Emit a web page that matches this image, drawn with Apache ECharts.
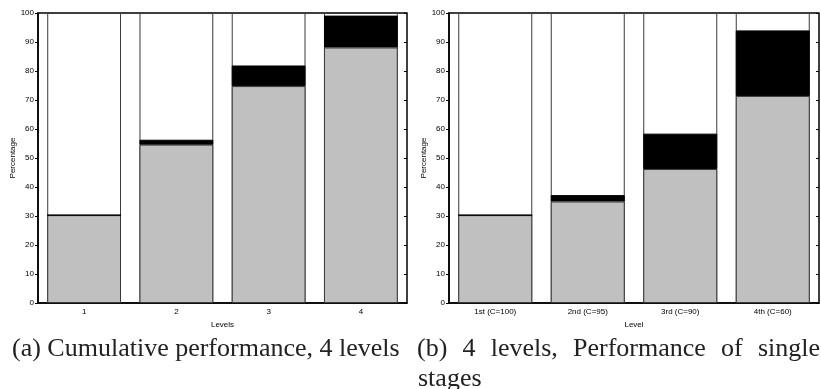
<!DOCTYPE html>
<html>
<head>
<meta charset="utf-8">
<script src="https://cdn.jsdelivr.net/npm/echarts@6/dist/echarts.min.js"></script>
<style>
  html, body { margin: 0; padding: 0; background: #fff; }
  #chart { width: 821px; height: 389px; }
</style>
</head>
<body>
<div id="chart"></div>
<script>
// Panel (a): cumulative performance with 4 levels
const levelsA = ['1', '2', '3', '4'];
const greyA = [30.3, 54.6, 74.8, 88.1];
const blackA = [0, 1.7, 7.1, 11.0];

// Panel (b): performance of single stages
const levelsB = ['1st (C=100)', '2nd (C=95)', '3rd (C=90)', '4th (C=60)'];
const greyB = [30.3, 35.0, 46.2, 71.4];
const blackB = [0, 2.2, 12.2, 22.6];

// Full-height outline behind each stacked bar
const fullA = [100, 100, 100, 100];
const fullB = [100, 100, 100, 100];

const yTicks = [0, 100, 10]; // min, max, interval

const captionA = '(a) Cumulative performance, 4 levels';
const captionB1 = '(b) 4 levels, Performance of single';
const captionB2 = 'stages';

const TICK_FONT = 'Liberation Sans';
const CAPTION_FONT = '26px "Liberation Serif"';
const OUTLINE = '#3a3a3a';

function grid(left, width) {
  return {
    left: left, top: 13, width: width, height: 290,
    show: true, borderColor: '#000', borderWidth: 1.5, backgroundColor: 'transparent'
  };
}

function xAxis(idx, cats, name) {
  return {
    type: 'category', gridIndex: idx, data: cats,
    name: name, nameLocation: 'middle', nameGap: 15,
    nameTextStyle: { fontFamily: TICK_FONT, fontSize: 8, color: '#000' },
    axisLine: { show: true, lineStyle: { color: '#000', width: 1.5 } },
    axisTick: { show: false },
    axisLabel: { fontFamily: TICK_FONT, fontSize: 8, color: '#000', margin: 5 },
    splitLine: { show: false }
  };
}

function yAxisLeft(idx) {
  return {
    type: 'value', gridIndex: idx, min: yTicks[0], max: yTicks[1], interval: yTicks[2],
    name: 'Percentage', nameLocation: 'middle', nameGap: 20, nameRotate: 90,
    nameTextStyle: { fontFamily: TICK_FONT, fontSize: 8, color: '#000' },
    axisLine: { show: true, lineStyle: { color: '#000', width: 1.5 } },
    axisTick: { show: true, inside: false, length: 3, lineStyle: { color: '#000' } },
    axisLabel: { fontFamily: TICK_FONT, fontSize: 8, color: '#000', margin: 4 },
    splitLine: { show: false }
  };
}

// mirrored inward ticks along the right frame edge
function yAxisRight(idx) {
  return {
    type: 'value', gridIndex: idx, position: 'right',
    min: yTicks[0], max: yTicks[1], interval: yTicks[2],
    axisLine: { show: false },
    axisTick: { show: true, inside: true, length: 3, lineStyle: { color: '#000' } },
    axisLabel: { show: false },
    splitLine: { show: false }
  };
}

function barSeries(axisIdx, full, grey, black) {
  const common = {
    type: 'bar', xAxisIndex: axisIdx, yAxisIndex: axisIdx * 2,
    barCategoryGap: '20%', barGap: '-100%', silent: true
  };
  return [
    Object.assign({}, common, {
      data: full,
      itemStyle: { color: '#fff', borderColor: OUTLINE, borderWidth: 1 }
    }),
    Object.assign({}, common, {
      data: grey, stack: 'panel' + axisIdx,
      itemStyle: { color: '#c0c0c0', borderColor: OUTLINE, borderWidth: 1 }
    }),
    Object.assign({}, common, {
      data: black, stack: 'panel' + axisIdx,
      itemStyle: { color: '#000', borderColor: '#000', borderWidth: 1 }
    })
  ];
}

// Justified first caption line for panel (b)
function justifiedWords(text, left, right, y) {
  const ctx = document.createElement('canvas').getContext('2d');
  ctx.font = CAPTION_FONT;
  const words = text.split(' ');
  const widths = words.map(w => ctx.measureText(w).width);
  const total = widths.reduce((a, b) => a + b, 0);
  const gap = (right - left - total) / (words.length - 1);
  let x = left;
  return words.map((w, i) => {
    const el = {
      type: 'text', x: x, y: y, silent: true,
      style: { text: w, font: CAPTION_FONT, fill: '#222', textVerticalAlign: 'middle' }
    };
    x += widths[i] + gap;
    return el;
  });
}

const chart = echarts.init(document.getElementById('chart'), null, { renderer: 'canvas' });

chart.setOption({
  animation: false,
  backgroundColor: '#fff',
  grid: [grid(38, 369), grid(449, 370)],
  xAxis: [xAxis(0, levelsA, 'Levels'), xAxis(1, levelsB, 'Level')],
  yAxis: [yAxisLeft(0), yAxisRight(0), yAxisLeft(1), yAxisRight(1)],
  series: [].concat(
    barSeries(0, fullA, greyA, blackA),
    barSeries(1, fullB, greyB, blackB)
  ),
  graphic: [
    {
      type: 'text', x: 12, y: 349, silent: true,
      style: { text: captionA, font: CAPTION_FONT, fill: '#222', textVerticalAlign: 'middle' }
    }
  ].concat(justifiedWords(captionB1, 417, 820, 349), [
    {
      type: 'text', x: 418, y: 379, silent: true,
      style: { text: captionB2, font: CAPTION_FONT, fill: '#222', textVerticalAlign: 'middle' }
    }
  ])
});
</script>
</body>
</html>
